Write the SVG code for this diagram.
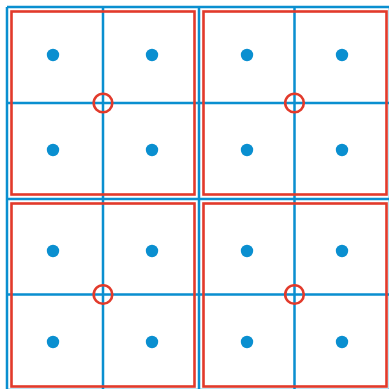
<svg xmlns="http://www.w3.org/2000/svg" width="389" height="389" viewBox="0 0 389 389">
<style>
.g{stroke:#0a8fd0;stroke-width:2.5;fill:none}
.r{stroke:#e23a2b;stroke-width:2.6;fill:none}
.d{fill:#0a8fd0}
</style>
<rect width="389" height="389" fill="#fff"/>
<g id="grid">
<path class="g" d="M7 7V391M103 7V391M199 7V391M294.5 7V391M390 7V391M7 7H391M7 103H391M7 199H391M7 294.5H391M7 390H391"/>
</g>
<g id="squares">
<rect class="r" x="11.5" y="11.5" width="183" height="183"/>
<rect class="r" x="203.5" y="11.5" width="183" height="183"/>
<rect class="r" x="11.5" y="203.5" width="183" height="183"/>
<rect class="r" x="203.5" y="203.5" width="183" height="183"/>
</g>
<g id="circles">
<circle class="r" cx="103" cy="103" r="9.3"/>
<circle class="r" cx="294.5" cy="103" r="9.3"/>
<circle class="r" cx="103" cy="294.5" r="9.3"/>
<circle class="r" cx="294.5" cy="294.5" r="9.3"/>
</g>
<g id="dots">
<circle class="d" cx="53" cy="55" r="6.2"/>
<circle class="d" cx="152" cy="55" r="6.2"/>
<circle class="d" cx="247" cy="55" r="6.2"/>
<circle class="d" cx="342" cy="55" r="6.2"/>
<circle class="d" cx="53" cy="150" r="6.2"/>
<circle class="d" cx="152" cy="150" r="6.2"/>
<circle class="d" cx="247" cy="150" r="6.2"/>
<circle class="d" cx="342" cy="150" r="6.2"/>
<circle class="d" cx="53" cy="251" r="6.2"/>
<circle class="d" cx="152" cy="251" r="6.2"/>
<circle class="d" cx="247" cy="251" r="6.2"/>
<circle class="d" cx="342" cy="251" r="6.2"/>
<circle class="d" cx="53" cy="342" r="6.2"/>
<circle class="d" cx="152" cy="342" r="6.2"/>
<circle class="d" cx="247" cy="342" r="6.2"/>
<circle class="d" cx="342" cy="342" r="6.2"/>
</g>
</svg>
